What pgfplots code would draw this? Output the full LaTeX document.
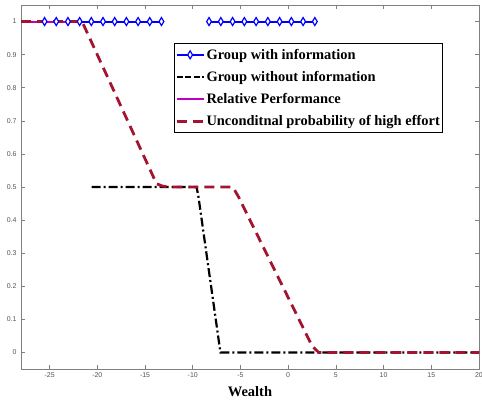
\documentclass[border=0pt]{standalone}
\usepackage{pgfplots}
\pgfplotsset{compat=1.18}
\usepackage{fontspec}
\setmainfont{Liberation Serif}
\newfontfamily\ticksf{Liberation Sans}
\definecolor{mred}{rgb}{0.635,0.078,0.184}
\definecolor{mmag}{rgb}{0.75,0,0.75}
\definecolor{tickgray}{rgb}{0.33,0.33,0.33}
\definecolor{axgray}{rgb}{0.5,0.5,0.5}
\begin{document}
\begin{tikzpicture}
\useasboundingbox (-21bp,-33bp) rectangle (461bp,369bp);
\begin{axis}[
  scale only axis,
  width=458bp, height=364bp,
  xmin=-28, xmax=20, ymin=-0.05, ymax=1.05,
  xtick={-25,-20,...,20},
  ytick={0,0.1,...,1},
  tick align=inside,
  major tick length=4bp,
  axis line style={axgray, line width=0.8bp},
  every tick/.style={axgray, line width=0.6bp},
  /pgf/number format/assume math mode=true,
  tick label style={font=\ticksf\fontsize{7}{8}\selectfont, text=tickgray},
  yticklabel style={xshift=-1bp},
  xlabel={\bfseries Wealth},
  xlabel style={font=\fontsize{14.5}{16}\selectfont, yshift=-2bp},
  legend style={at={(0.335,0.895)}, anchor=north west, draw=black, line width=0.6bp,
    font=\bfseries\fontsize{14.5}{16}\selectfont, inner xsep=0.5bp, inner ysep=5.5bp,
    row sep=10.5bp, nodes={inner xsep=1.5bp, inner ysep=0bp}},
  legend cell align=left,
  legend image code/.code={\draw[mark repeat=2,mark phase=2,#1] plot coordinates {(0bp,0bp)(13.5bp,0bp)(27bp,0bp)};},
  clip=true,
]
\addplot[blue, line width=2bp, mark=diamond*, mark size=4bp, mark options={solid, fill=white, line width=1.2bp, xscale=0.8}]
coordinates {(-25.53,1)(-24.305,1)(-23.08,1)(-21.855,1)(-20.63,1)(-19.405,1)(-18.18,1)(-16.955,1)(-15.73,1)(-14.505,1)(-13.28,1)};
\addlegendentry{Group with information}
\addplot[black, line width=2.2bp, dash pattern=on 9bp off 3bp on 2bp off 3bp, forget plot]
coordinates {(-20.6,0.5)(-9.6,0.5)(-9.4,0.47)(-7.1,0)(20,0)};
\addplot[blue, line width=2bp, mark=diamond*, mark size=4bp, mark options={solid, fill=white, line width=1.2bp, xscale=0.8}, forget plot]
coordinates {(-8.29,1)(-7.058,1)(-5.826,1)(-4.594,1)(-3.362,1)(-2.13,1)(-0.898,1)(0.334,1)(1.566,1)(2.798,1)};
\addlegendimage{black, line width=2.2bp, dash pattern=on 6bp off 2.5bp}
\addlegendentry{Group without information}
\addplot[mmag, line width=2bp]
coordinates {(-28,1)(-23.1,1)};
\addlegendentry{Relative Performance}
\addplot[mred, line width=2.8bp, dash pattern=on 10bp off 6bp]
coordinates {(-28,1)(-21.6,1)(-13.8,0.51)(-13.2,0.503)(-12.6,0.5)(-5.8,0.5)(-5.2,0.47)(2.5,0.02)(3.2,0)(20,0)};
\addlegendentry{Unconditnal probability of high effort}
\end{axis}
\end{tikzpicture}
\end{document}
